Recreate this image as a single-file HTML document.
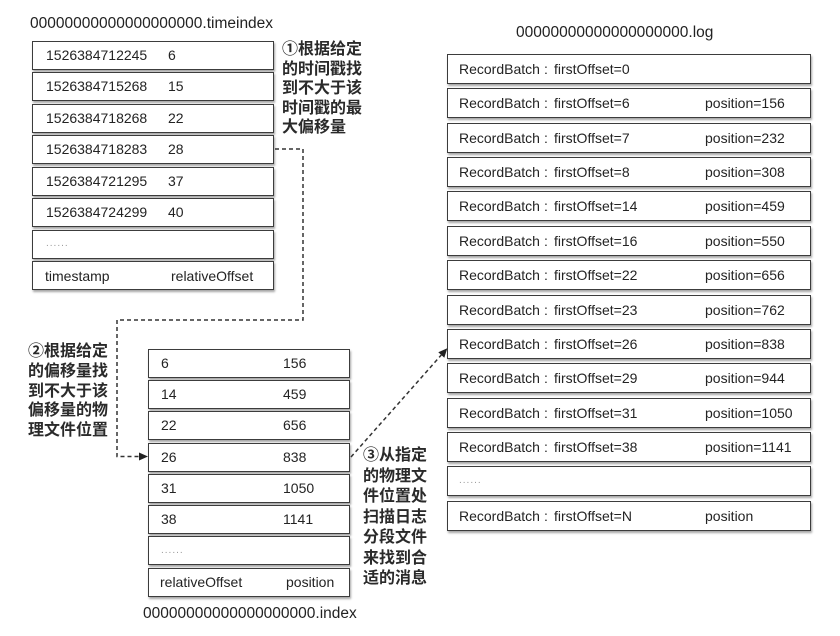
<!DOCTYPE html>
<html>
<head>
<meta charset="utf-8">
<style>
  html,body{margin:0;padding:0;background:#fff;}
  body{width:840px;height:636px;position:relative;overflow:hidden;
       font-family:"Liberation Sans","Noto Sans CJK SC",sans-serif;color:#222;}
  .row{position:absolute;box-sizing:border-box;height:29px;background:#fff;
       border:1.5px solid #3c3c3c;box-shadow:1px 2px 2px rgba(0,0,0,0.35);}
  .t{position:absolute;font-size:14px;line-height:16px;white-space:nowrap;color:#232323;}
  .dots{position:absolute;font-size:10px;color:#999;letter-spacing:1px;}
  .title{position:absolute;font-size:15.5px;line-height:18px;color:#222;white-space:nowrap;}
  .ann{position:absolute;font-family:"Liberation Sans","Noto Sans CJK SC",sans-serif;
       font-size:16px;font-weight:bold;color:#2a2a2a;white-space:nowrap;}
</style>
</head>
<body>

<!-- titles -->
<div class="title" style="left:30px;top:15px;">00000000000000000000.timeindex</div>
<div class="title" style="left:516px;top:24px;">00000000000000000000.log</div>
<div class="title" style="left:143px;top:605px;">00000000000000000000.index</div>

<!-- timeindex rows -->
<div class="row" style="left:32px;top:41px;width:242px;"></div>
<div class="row" style="left:32px;top:72px;width:242px;"></div>
<div class="row" style="left:32px;top:104px;width:242px;"></div>
<div class="row" style="left:32px;top:135px;width:242px;"></div>
<div class="row" style="left:32px;top:167px;width:242px;"></div>
<div class="row" style="left:32px;top:198px;width:242px;"></div>
<div class="row" style="left:32px;top:230px;width:242px;"></div>
<div class="row" style="left:32px;top:261px;width:242px;"></div>

<div class="t" style="left:46px;top:47px;">1526384712245</div><div class="t" style="left:168px;top:47px;">6</div>
<div class="t" style="left:46px;top:78px;">1526384715268</div><div class="t" style="left:168px;top:78px;">15</div>
<div class="t" style="left:46px;top:110px;">1526384718268</div><div class="t" style="left:168px;top:110px;">22</div>
<div class="t" style="left:46px;top:141px;">1526384718283</div><div class="t" style="left:168px;top:141px;">28</div>
<div class="t" style="left:46px;top:173px;">1526384721295</div><div class="t" style="left:168px;top:173px;">37</div>
<div class="t" style="left:46px;top:204px;">1526384724299</div><div class="t" style="left:168px;top:204px;">40</div>
<div class="dots" style="left:46px;top:238px;">......</div>
<div class="t" style="left:45px;top:268px;">timestamp</div><div class="t" style="left:171px;top:268px;">relativeOffset</div>

<!-- index rows -->
<div class="row" style="left:148px;top:349px;width:202px;"></div>
<div class="row" style="left:148px;top:380px;width:202px;"></div>
<div class="row" style="left:148px;top:411px;width:202px;"></div>
<div class="row" style="left:148px;top:443px;width:202px;"></div>
<div class="row" style="left:148px;top:474px;width:202px;"></div>
<div class="row" style="left:148px;top:505px;width:202px;"></div>
<div class="row" style="left:148px;top:536px;width:202px;"></div>
<div class="row" style="left:148px;top:568px;width:202px;"></div>

<div class="t" style="left:161px;top:355px;">6</div><div class="t" style="left:283px;top:355px;">156</div>
<div class="t" style="left:161px;top:386px;">14</div><div class="t" style="left:283px;top:386px;">459</div>
<div class="t" style="left:161px;top:417px;">22</div><div class="t" style="left:283px;top:417px;">656</div>
<div class="t" style="left:161px;top:449px;">26</div><div class="t" style="left:283px;top:449px;">838</div>
<div class="t" style="left:161px;top:480px;">31</div><div class="t" style="left:283px;top:480px;">1050</div>
<div class="t" style="left:161px;top:511px;">38</div><div class="t" style="left:283px;top:511px;">1141</div>
<div class="dots" style="left:161px;top:545px;">......</div>
<div class="t" style="left:160px;top:574px;">relativeOffset</div><div class="t" style="left:286px;top:574px;">position</div>

<!-- log rows -->
<div class="row" style="left:447px;top:54px;width:364px;height:30px;"></div>
<div class="row" style="left:447px;top:88px;width:364px;height:30px;"></div>
<div class="row" style="left:447px;top:123px;width:364px;height:30px;"></div>
<div class="row" style="left:447px;top:157px;width:364px;height:30px;"></div>
<div class="row" style="left:447px;top:191px;width:364px;height:30px;"></div>
<div class="row" style="left:447px;top:226px;width:364px;height:30px;"></div>
<div class="row" style="left:447px;top:260px;width:364px;height:30px;"></div>
<div class="row" style="left:447px;top:295px;width:364px;height:30px;"></div>
<div class="row" style="left:447px;top:329px;width:364px;height:30px;"></div>
<div class="row" style="left:447px;top:363px;width:364px;height:30px;"></div>
<div class="row" style="left:447px;top:398px;width:364px;height:30px;"></div>
<div class="row" style="left:447px;top:432px;width:364px;height:30px;"></div>
<div class="row" style="left:447px;top:466px;width:364px;height:30px;"></div>
<div class="row" style="left:447px;top:501px;width:364px;height:30px;"></div>

<div class="t" style="left:459px;top:61px;">RecordBatch</div><div class="t" style="left:544px;top:61px;">:</div><div class="t" style="left:554px;top:61px;">firstOffset=0</div>
<div class="t" style="left:459px;top:95px;">RecordBatch</div><div class="t" style="left:544px;top:95px;">:</div><div class="t" style="left:554px;top:95px;">firstOffset=6</div><div class="t" style="left:705px;top:95px;">position=156</div>
<div class="t" style="left:459px;top:130px;">RecordBatch</div><div class="t" style="left:544px;top:130px;">:</div><div class="t" style="left:554px;top:130px;">firstOffset=7</div><div class="t" style="left:705px;top:130px;">position=232</div>
<div class="t" style="left:459px;top:164px;">RecordBatch</div><div class="t" style="left:544px;top:164px;">:</div><div class="t" style="left:554px;top:164px;">firstOffset=8</div><div class="t" style="left:705px;top:164px;">position=308</div>
<div class="t" style="left:459px;top:198px;">RecordBatch</div><div class="t" style="left:544px;top:198px;">:</div><div class="t" style="left:554px;top:198px;">firstOffset=14</div><div class="t" style="left:705px;top:198px;">position=459</div>
<div class="t" style="left:459px;top:233px;">RecordBatch</div><div class="t" style="left:544px;top:233px;">:</div><div class="t" style="left:554px;top:233px;">firstOffset=16</div><div class="t" style="left:705px;top:233px;">position=550</div>
<div class="t" style="left:459px;top:267px;">RecordBatch</div><div class="t" style="left:544px;top:267px;">:</div><div class="t" style="left:554px;top:267px;">firstOffset=22</div><div class="t" style="left:705px;top:267px;">position=656</div>
<div class="t" style="left:459px;top:302px;">RecordBatch</div><div class="t" style="left:544px;top:302px;">:</div><div class="t" style="left:554px;top:302px;">firstOffset=23</div><div class="t" style="left:705px;top:302px;">position=762</div>
<div class="t" style="left:459px;top:336px;">RecordBatch</div><div class="t" style="left:544px;top:336px;">:</div><div class="t" style="left:554px;top:336px;">firstOffset=26</div><div class="t" style="left:705px;top:336px;">position=838</div>
<div class="t" style="left:459px;top:370px;">RecordBatch</div><div class="t" style="left:544px;top:370px;">:</div><div class="t" style="left:554px;top:370px;">firstOffset=29</div><div class="t" style="left:705px;top:370px;">position=944</div>
<div class="t" style="left:459px;top:405px;">RecordBatch</div><div class="t" style="left:544px;top:405px;">:</div><div class="t" style="left:554px;top:405px;">firstOffset=31</div><div class="t" style="left:705px;top:405px;">position=1050</div>
<div class="t" style="left:459px;top:439px;">RecordBatch</div><div class="t" style="left:544px;top:439px;">:</div><div class="t" style="left:554px;top:439px;">firstOffset=38</div><div class="t" style="left:705px;top:439px;">position=1141</div>
<div class="dots" style="left:459px;top:475px;">......</div>
<div class="t" style="left:459px;top:508px;">RecordBatch</div><div class="t" style="left:544px;top:508px;">:</div><div class="t" style="left:554px;top:508px;">firstOffset=N</div><div class="t" style="left:705px;top:508px;">position</div>

<!-- annotations -->
<div class="ann" style="left:282px;top:40px;line-height:19.5px;">①根据给定<br>的时间戳找<br>到不大于该<br>时间戳的最<br>大偏移量</div>
<div class="ann" style="left:28px;top:342px;line-height:19.8px;">②根据给定<br>的偏移量找<br>到不大于该<br>偏移量的物<br>理文件位置</div>
<div class="ann" style="left:363px;top:446px;line-height:20.5px;">③从指定<br>的物理文<br>件位置处<br>扫描日志<br>分段文件<br>来找到合<br>适的消息</div>

<!-- connectors -->
<svg width="840" height="636" style="position:absolute;left:0;top:0;" xmlns="http://www.w3.org/2000/svg">
  <path d="M275,149 H303 V320 H117 V456.5 H139" fill="none" stroke="#333" stroke-width="1.5" stroke-dasharray="4 3"/>
  <polygon points="148,456.5 139,452.5 139,460.5" fill="#222"/>
  <line x1="351" y1="457" x2="441.3" y2="355" stroke="#333" stroke-width="1.5" stroke-dasharray="4 3"/>
  <polygon points="447.3,348.3 444.3,357.7 438.3,352.3" fill="#222"/>
</svg>

</body>
</html>
